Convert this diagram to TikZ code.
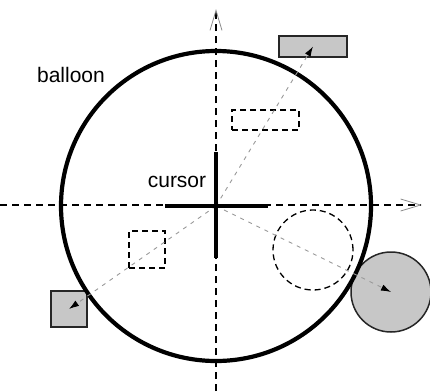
\documentclass[tikz,border=0pt]{standalone}
\usepackage{fontspec}
\setmainfont{Liberation Sans}
\usetikzlibrary{arrows.meta}
\begin{document}
\begin{tikzpicture}[x=1pt,y=-1pt,
  grayshape/.style={draw=black!85, fill=black!22, line width=1.5pt, inner sep=0pt, outer sep=0pt},
  dashshape/.style={draw=black, dash pattern=on 6pt off 4pt, line width=1.3pt, inner sep=0pt, outer sep=0pt},
  axisline/.style={draw=black, dash pattern=on 7pt off 5pt, line width=1.2pt,
     -{Straight Barb[length=20pt,width=12pt,line width=0.8pt,color=black!45]}},
  cursorline/.style={line width=4.2pt, draw=black},
  moveline/.style={draw=black!40, dash pattern=on 4pt off 5pt, line width=0.9pt,
     -{Latex[length=10pt,width=6.5pt,color=black]}},
  lbl/.style={font=\fontsize{21}{25}\selectfont, inner sep=0pt}
]
\useasboundingbox (0,0) rectangle (430,391);
% moved (gray) shapes
\node[grayshape, minimum width=68pt, minimum height=21pt] (grect) at (313,46.5) {};
\node[grayshape, minimum width=36pt, minimum height=36pt] (gsq) at (69,309) {};
\node[grayshape, circle, minimum size=80pt] (gcirc) at (391,292) {};
% original (dashed) shapes
\node[dashshape, minimum width=67pt, minimum height=20pt] (drect) at (265.5,120) {};
\node[dashshape, minimum width=36pt, minimum height=37pt] (dsq) at (147,249.5) {};
\node[dashshape, circle, minimum size=80pt] (dcirc) at (313,250) {};
% balloon
\node[draw=black, circle, line width=4.2pt, minimum size=310pt, inner sep=0pt] (balloon) at (216,206) {};
% axes
\coordinate (c) at (216,206);
\coordinate (xs) at (0,205);
\coordinate (xe) at (422,205);
\coordinate (ys) at (216,391);
\coordinate (ye) at (216,9);
\draw[axisline] (xs) -- (xe);
\draw[axisline] (ys) -- (ye);
% movement lines
\draw[moveline] (c) -- (grect.center);
\draw[moveline] (c) -- (gsq.center);
\draw[moveline] (c) -- (gcirc.center);
% cursor
\coordinate (cl) at (165,206);
\coordinate (cr) at (268,206);
\coordinate (ct) at (216,152);
\coordinate (cb) at (216,258);
\draw[cursorline] (cl) -- (cr);
\draw[cursorline] (ct) -- (cb);
% labels
\node[lbl] (balloonlabel) at (71,75) {balloon};
\node[lbl] (cursorlabel) at (177,182) {cursor};
\end{tikzpicture}
\end{document}
